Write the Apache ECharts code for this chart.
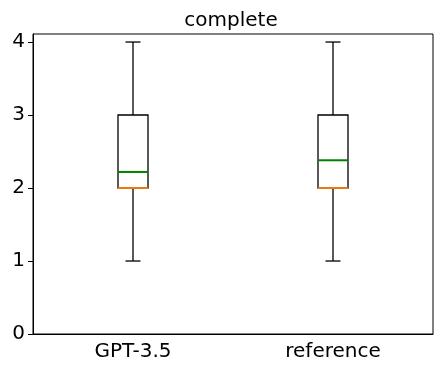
<!DOCTYPE html>
<html>
<head>
<meta charset="utf-8">
<script src="https://cdn.jsdelivr.net/npm/echarts@6/dist/echarts.min.js"></script>
<style>
html,body{margin:0;padding:0;background:#fff;}
#chart{width:442px;height:374px;}
</style>
</head>
<body>
<div id="chart"></div>
<script>
var categories = ['GPT-3.5', 'reference'];
var mins = [1, 1];
var q1s = [2, 2];
var medians = [2, 2];
var q3s = [3, 3];
var maxs = [4, 4];
var means = [2.22, 2.38];
var yTicks = [0, 1, 2, 3, 4];

var rows = categories.map(function (c, i) {
  return [i, mins[i], q1s[i], medians[i], q3s[i], maxs[i], means[i]];
});

function renderBox(params, api) {
  var i = api.value(0);
  var bw = api.size([1, 0])[0] * 0.15;
  var cx = api.coord([i, 0])[0];
  var yMin = api.coord([i, api.value(1)])[1];
  var yQ1 = api.coord([i, api.value(2)])[1];
  var yMed = api.coord([i, api.value(3)])[1];
  var yQ3 = api.coord([i, api.value(4)])[1];
  var yMax = api.coord([i, api.value(5)])[1];
  var yMean = api.coord([i, api.value(6)])[1];
  var black = { stroke: '#000', lineWidth: 1.3, fill: null };
  return {
    type: 'group',
    children: [
      { type: 'line', shape: { x1: cx, y1: yQ1, x2: cx, y2: yMin }, style: black },
      { type: 'line', shape: { x1: cx, y1: yQ3, x2: cx, y2: yMax }, style: black },
      { type: 'line', shape: { x1: cx - bw / 4, y1: yMin, x2: cx + bw / 4, y2: yMin }, style: black },
      { type: 'line', shape: { x1: cx - bw / 4, y1: yMax, x2: cx + bw / 4, y2: yMax }, style: black },
      { type: 'rect', shape: { x: cx - bw / 2, y: yQ3, width: bw, height: yQ1 - yQ3 }, style: black },
      { type: 'line', shape: { x1: cx - bw / 2, y1: yMed, x2: cx + bw / 2, y2: yMed }, style: { stroke: '#ff7f0e', lineWidth: 1.8 } },
      { type: 'line', shape: { x1: cx - bw / 2, y1: yMean, x2: cx + bw / 2, y2: yMean }, style: { stroke: '#008000', lineWidth: 2 } }
    ]
  };
}

var chart = echarts.init(document.getElementById('chart'));
chart.setOption({
  animation: false,
  title: {
    text: 'complete',
    left: 226,
    textAlign: 'center',
    top: 6,
    textStyle: { fontFamily: 'DejaVu Sans', fontSize: 20, fontWeight: 'normal', color: '#000' }
  },
  grid: {
    left: 33, right: 9, top: 34, bottom: 40,
    show: true, borderColor: '#000', borderWidth: 1, backgroundColor: 'transparent'
  },
  xAxis: {
    type: 'category',
    data: categories,
    boundaryGap: true,
    axisLine: { lineStyle: { color: '#000' } },
    axisTick: { alignWithLabel: true, length: 5, lineStyle: { color: '#000' } },
    axisLabel: { fontFamily: 'DejaVu Sans', fontSize: 20, color: '#000', margin: 8 },
    splitLine: { show: false }
  },
  yAxis: {
    type: 'value',
    min: 0,
    max: 4.11,
    interval: 1,
    axisLine: { show: true, lineStyle: { color: '#000' } },
    axisTick: { show: true, length: 5, customValues: yTicks, lineStyle: { color: '#000' } },
    axisLabel: { fontFamily: 'DejaVu Sans', fontSize: 20, color: '#000', margin: 8, customValues: yTicks },
    splitLine: { show: false }
  },
  series: [{
    type: 'custom',
    renderItem: renderBox,
    encode: { x: 0, y: [1, 5] },
    data: rows
  }]
});
</script>
</body>
</html>
